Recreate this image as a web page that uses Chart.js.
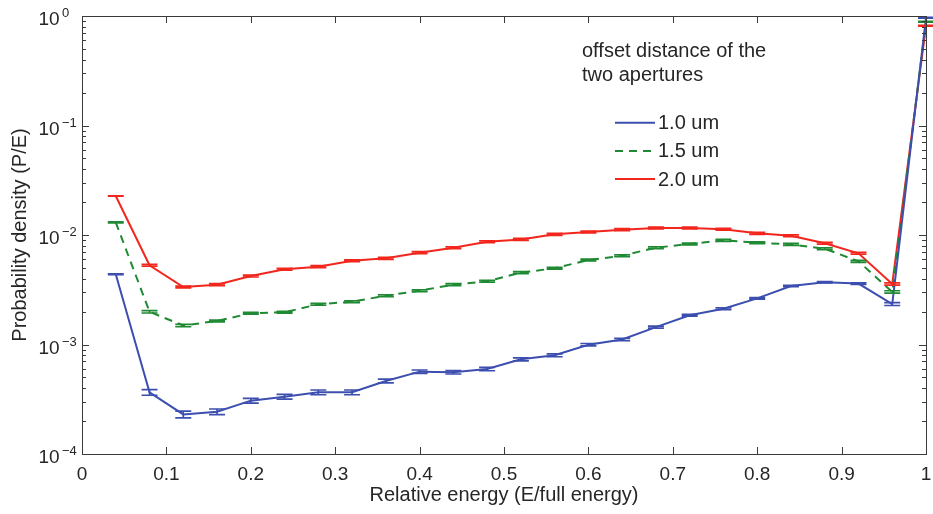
<!DOCTYPE html>
<html><head><meta charset="utf-8">
<script src="https://cdn.jsdelivr.net/npm/chart.js@4.4.0/dist/chart.umd.min.js"></script>
<style>html,body{margin:0;padding:0;background:#fff;}#wrap{width:933px;height:514px;position:relative;}</style>
</head><body><div id="wrap"><canvas id="c"></canvas></div>
<script>
// ---- data ----
const energy = [0.04,0.08,0.12,0.16,0.20,0.24,0.28,0.32,0.36,0.40,0.44,0.48,0.52,0.56,0.60,0.64,0.68,0.72,0.76,0.80,0.84,0.88,0.92,0.96,1.00];
const density10 = [0.00438,0.000366,0.000230,0.000243,0.000307,0.000334,0.000366,0.000366,0.000464,0.000565,0.000557,0.000597,0.000732,0.000797,0.000996,0.00111,0.00144,0.00185,0.00212,0.00264,0.00342,0.00370,0.00360,0.00234,0.964];
const density15 = [0.01305,0.00199,0.00149,0.00164,0.00193,0.00197,0.00233,0.00246,0.00279,0.00310,0.00352,0.00378,0.00453,0.00497,0.00591,0.00647,0.00766,0.00828,0.00893,0.00850,0.00822,0.00750,0.00575,0.00302,0.887];
const density20 = [0.0227,0.00529,0.00335,0.00352,0.00422,0.00486,0.00514,0.00582,0.00612,0.00690,0.00766,0.00869,0.00912,0.01014,0.01065,0.01119,0.01159,0.01160,0.01128,0.01036,0.00986,0.00840,0.00681,0.00357,0.815];
// relative error (fraction of value)
const err10 = [0.01,0.06,0.07,0.06,0.05,0.05,0.05,0.05,0.04,0.035,0.035,0.035,0.03,0.03,0.025,0.025,0.02,0.02,0.02,0.015,0.015,0.015,0.015,0.03,0.01];
const err15 = [0.01,0.025,0.025,0.02,0.02,0.02,0.02,0.02,0.02,0.02,0.02,0.02,0.02,0.02,0.02,0.02,0.02,0.02,0.02,0.02,0.02,0.02,0.02,0.025,0.01];
const err20 = [0.005,0.02,0.02,0.02,0.02,0.02,0.02,0.02,0.02,0.02,0.02,0.02,0.02,0.02,0.02,0.02,0.02,0.02,0.02,0.02,0.02,0.02,0.02,0.025,0.01];
const seriesLabels = ['1.0 um','1.5 um','2.0 um'];
const legendTitle = ['offset distance of the','two apertures'];
const xTickLabels = ['0','0.1','0.2','0.3','0.4','0.5','0.6','0.7','0.8','0.9','1'];
const yTickExponents = [0,-1,-2,-3,-4];
const xTitle = 'Relative energy (E/full energy)';
const yTitle = 'Probability density (P/E)';

const FONT = '"Liberation Sans", Arial, Helvetica, sans-serif';
const TXT = '#262626';
const AXC = '#3a3a3a';

function pts(vals){ return energy.map((x,i)=>({x:x,y:vals[i]})); }

const decor = {
  id:'decor',
  afterDatasetsDraw(chart){
    const ctx = chart.ctx, xs = chart.scales.x, ys = chart.scales.y;
    ctx.save();
    chart.data.datasets.forEach(ds=>{
      ctx.strokeStyle = ds.borderColor; ctx.lineWidth = 1.7; ctx.setLineDash([]);
      ds.data.forEach((p,i)=>{
        const e = ds.errs[i];
        const px = xs.getPixelForValue(p.x);
        const y1 = ys.getPixelForValue(p.y*(1+e));
        const y2 = ys.getPixelForValue(p.y*(1-e));
        ctx.beginPath();
        ctx.moveTo(px,y1); ctx.lineTo(px,y2);
        ctx.moveTo(px-8,y1); ctx.lineTo(px+8,y1);
        ctx.moveTo(px-8,y2); ctx.lineTo(px+8,y2);
        ctx.stroke();
      });
    });
    ctx.restore();
  },
  afterDraw(chart){
    const ctx = chart.ctx, xs = chart.scales.x, ys = chart.scales.y, a = chart.chartArea;
    ctx.save();
    ctx.strokeStyle = AXC; ctx.lineWidth = 1; ctx.setLineDash([]);
    ctx.strokeRect(Math.round(a.left)+0.5, Math.round(a.top)+0.5, Math.round(a.right-a.left), Math.round(a.bottom-a.top));
    ctx.beginPath();
    xs.ticks.forEach(t=>{
      const px = Math.round(xs.getPixelForValue(t.value))+0.5;
      ctx.moveTo(px,a.bottom); ctx.lineTo(px,a.bottom-7);
      ctx.moveTo(px,a.top); ctx.lineTo(px,a.top+7);
    });
    ys.ticks.forEach(t=>{
      const v = t.value;
      const ex = Math.floor(Math.log10(v)+1e-9);
      const m = v/Math.pow(10,ex);
      if (Math.abs(m-Math.round(m))>1e-6) return;
      const len = Math.abs(m-1)<1e-6 ? 7 : 4;
      const py = Math.round(ys.getPixelForValue(v))+0.5;
      ctx.moveTo(a.left,py); ctx.lineTo(a.left+len,py);
      ctx.moveTo(a.right,py); ctx.lineTo(a.right-len,py);
    });
    ctx.stroke();
    ctx.fillStyle = TXT; ctx.textAlign='left'; ctx.textBaseline='alphabetic';
    yTickExponents.forEach(e=>{
      const py = ys.getPixelForValue(Math.pow(10,e));
      ctx.font = '19px '+FONT;
      ctx.fillText('10', 38.5, py+9);
      ctx.font = '13px '+FONT;
      ctx.fillText(e===0?'0':'\u2212'+Math.abs(e), 62, py+1);
    });
    ctx.font = '20px '+FONT;
    ctx.fillText(legendTitle[0], 582, 57);
    ctx.fillText(legendTitle[1], 582, 81);
    chart.data.datasets.forEach((ds,i)=>{
      const y = 122.7 + i*28.2;
      ctx.strokeStyle = ds.borderColor; ctx.lineWidth = 2;
      ctx.setLineDash(ds.borderDash||[]);
      ctx.beginPath(); ctx.moveTo(615,y); ctx.lineTo(655,y); ctx.stroke();
      ctx.setLineDash([]);
      ctx.fillStyle = TXT; ctx.textBaseline='middle';
      ctx.fillText(ds.label, 658, y+1);
    });
    ctx.restore();
  }
};

new Chart(document.getElementById('c'), {
  type:'line',
  data:{datasets:[
    {label:seriesLabels[0], data:pts(density10), errs:err10, borderColor:'#3d4fae', borderWidth:2, pointRadius:0, tension:0, fill:false},
    {label:seriesLabels[1], data:pts(density15), errs:err15, borderColor:'#1f8a33', borderWidth:2, borderDash:[8,6], pointRadius:0, tension:0, fill:false},
    {label:seriesLabels[2], data:pts(density20), errs:err20, borderColor:'#f2261c', borderWidth:2, pointRadius:0, tension:0, fill:false}
  ]},
  options:{
    responsive:true, maintainAspectRatio:false, animation:false,
    layout:{padding:{top:16,right:7,left:0,bottom:0}},
    plugins:{legend:{display:false}, tooltip:{enabled:false}},
    scales:{
      x:{type:'linear', min:0, max:1,
        grid:{display:false, drawTicks:false}, border:{display:false},
        ticks:{stepSize:0.1, color:TXT, font:{family:FONT,size:19}, padding:9, maxRotation:0,
          callback:(v)=>xTickLabels[Math.round(v*10)]},
        title:{display:true, text:xTitle, color:TXT, font:{family:FONT,size:20}, padding:{top:0,bottom:7}},
        afterFit:(s)=>{s.height=60; s.paddingLeft=0; s.paddingRight=0;}
      },
      y:{type:'logarithmic', min:1e-4, max:1,
        grid:{display:false, drawTicks:false}, border:{display:false},
        ticks:{display:false},
        title:{display:true, text:yTitle, color:TXT, font:{family:FONT,size:20}, padding:{top:8,bottom:0}},
        afterFit:(s)=>{s.width=82; s.paddingTop=0; s.paddingBottom=0;}
      }
    }
  },
  plugins:[decor]
});
</script></body></html>
